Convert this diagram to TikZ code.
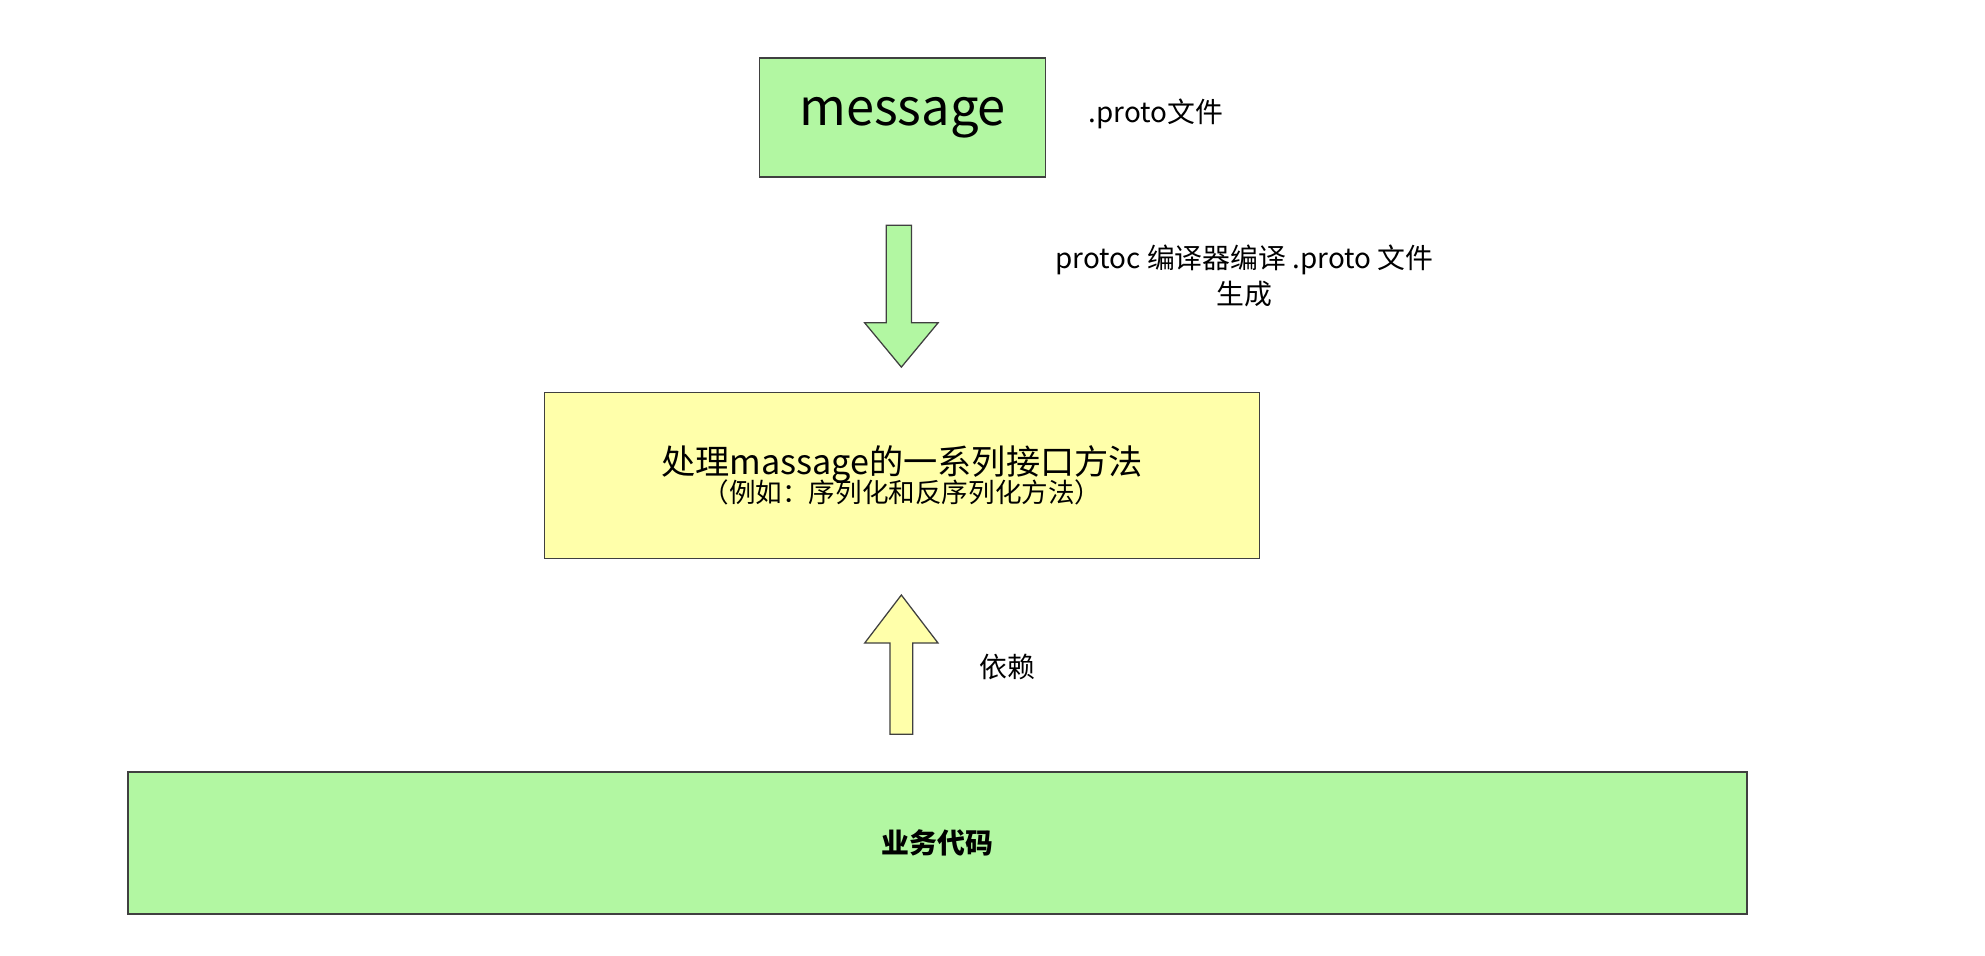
\documentclass[tikz,border=0pt]{standalone}
\usepackage{fontspec}
\setmainfont{Noto Sans CJK SC}
\begin{document}
\begin{tikzpicture}[x=1pt,y=-1pt,
  box/.style={draw=black!75,line width=1.2pt,inner sep=0pt},
  lbl/.style={inner sep=0pt,font=\fontsize{22}{28}\selectfont}]
\useasboundingbox (0,0) rectangle (1568,755);
\definecolor{lg}{HTML}{B2F7A2}
\definecolor{ly}{HTML}{FFFFAA}
\node[box,fill=lg,minimum width=226pt,minimum height=94pt] (msg) at (713,93) {\fontsize{40}{44}\selectfont message};
\node[lbl,anchor=west] (proto) at (860,90) {.proto文件};
\node[box,fill=ly,minimum width=565pt,minimum height=131pt,align=center] (api) at (712.5,375.5)
 {\fontsize{27}{40}\selectfont 处理massage的一系列接口方法\\[-4pt]\fontsize{21}{28}\selectfont （例如：序列化和反序列化方法）};
\node[box,fill=lg,minimum width=1279pt,minimum height=112pt] (biz) at (740.5,666) {\fontsize{22}{28}\selectfont\bfseries 业务代码};
% down arrow
\draw[black!75,line width=1pt,fill=lg] (700,178) -- (720,178) -- (720,255) -- (741,255) -- (712,290) -- (683,255) -- (700,255) -- cycle;
\node[lbl,align=center] (gen) at (983,218) {protoc 编译器编译 .proto 文件\\生成};
% up arrow
\draw[black!75,line width=1pt,fill=ly] (703,580) -- (721,580) -- (721,508) -- (741,508) -- (712,470) -- (683,508) -- (703,508) -- cycle;
\node[lbl] (dep) at (796,527) {依赖};
\end{tikzpicture}
\end{document}
